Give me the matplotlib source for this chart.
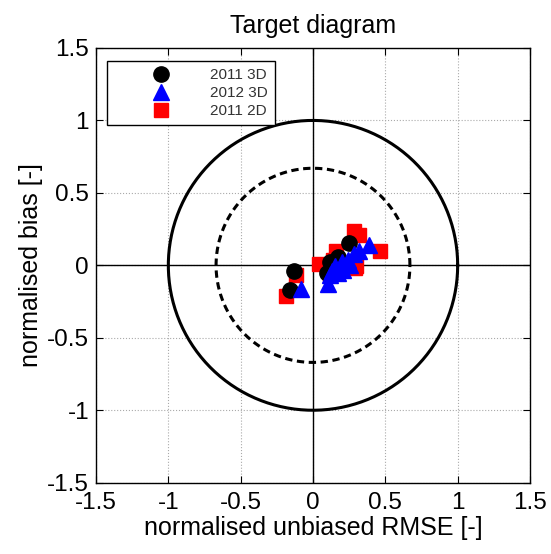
import numpy as np
import matplotlib
matplotlib.use("Agg")
import matplotlib.pyplot as plt

plt.rcParams['font.family'] = ['Liberation Sans', 'DejaVu Sans']
plt.rcParams['axes.unicode_minus'] = False

# 2011 3D (black circles)
x_2011_3d = [0.25, -0.13, -0.16, 0.12, 0.17, 0.10]
y_2011_3d = [0.155, -0.04, -0.17, 0.02, 0.06, -0.05]

# 2012 3D (blue triangles)
x_2012_3d = [0.39, 0.32, 0.28, 0.24, 0.20, 0.15, 0.13, 0.12, 0.105, 0.21, 0.255, 0.17, -0.08]
y_2012_3d = [0.14, 0.10, 0.075, 0.04, 0.02, -0.005, -0.04, -0.07, -0.13, -0.03, 0.005, -0.05, -0.165]

# 2011 2D (red squares)
x_2011_2d = [0.28, 0.32, 0.46, 0.04, 0.16, 0.14, 0.30, 0.29, -0.12, -0.19, 0.12]
y_2011_2d = [0.235, 0.21, 0.10, 0.007, 0.10, 0.04, -0.005, -0.015, -0.07, -0.21, -0.06]

ticks = [-1.5, -1, -0.5, 0, 0.5, 1, 1.5]
tick_labels = ['-1.5', '-1', '-0.5', '0', '0.5', '1', '1.5']
outer_r = 1.0
inner_r = 0.67

fig = plt.figure(figsize=(5.51, 5.54), dpi=100)
ax = fig.add_axes([0.1742, 0.1287, 0.7877, 0.7847])

theta = np.linspace(0, 2 * np.pi, 400)
ax.plot(outer_r * np.cos(theta), outer_r * np.sin(theta), color='black', lw=2.2, zorder=2)
ax.plot(inner_r * np.cos(theta), inner_r * np.sin(theta), color='black', lw=2.2,
        ls=(0, (2.4, 1.5)), zorder=2)
ax.axhline(0, color='black', lw=1, zorder=2)
ax.axvline(0, color='black', lw=1, zorder=2)

# drawn red first, then black, blue on top
ax.plot(x_2011_2d, y_2011_2d, 's', color='red', ms=10, ls='none', zorder=3)
ax.plot(x_2011_3d, y_2011_3d, 'o', color='black', ms=11, ls='none', zorder=4)
ax.plot(x_2012_3d, y_2012_3d, '^', color='blue', ms=11, ls='none', zorder=5)

h1 = ax.plot([], [], 'o', color='black', ms=11, ls='none')[0]
h2 = ax.plot([], [], '^', color='blue', ms=11, ls='none')[0]
h3 = ax.plot([], [], 's', color='red', ms=10, ls='none')[0]
leg = ax.legend([h1, h2, h3], ['2011 3D', '2012 3D', '2011 2D'], loc='upper left',
                bbox_to_anchor=(0.025, 0.970), borderaxespad=0, fontsize=11,
                fancybox=False, framealpha=1, edgecolor='black', handletextpad=0.1,
                borderpad=0.45, labelspacing=0.28, handlelength=6.2)
leg.get_frame().set_linewidth(1)
for t in leg.get_texts():
    t.set_color('#333333')

ax.set_xlim(-1.5, 1.5)
ax.set_ylim(-1.5, 1.5)
ax.set_xticks(ticks)
ax.set_yticks(ticks)
ax.set_xticklabels(tick_labels)
ax.set_yticklabels(tick_labels)
ax.grid(True, color='#aaaaaa', ls=':', lw=0.8)
ax.tick_params(direction='in', top=True, right=True, labelsize=17.5, length=5)
ax.tick_params(axis='x', pad=7)
ax.tick_params(axis='y', pad=5)
for s in ax.spines.values():
    s.set_linewidth(1)

ax.set_xlabel('normalised unbiased RMSE [-]', fontsize=18, labelpad=1)
ax.set_ylabel('normalised bias [-]', fontsize=18, labelpad=3)
ax.set_title('Target diagram', fontsize=18, pad=11)

fig.savefig('out.png', dpi=100)
